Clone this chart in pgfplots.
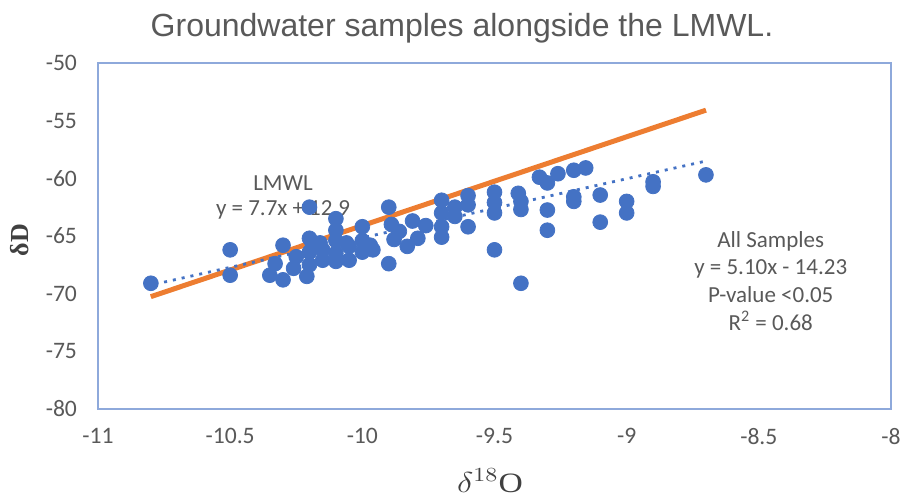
\documentclass[border=0pt]{standalone}
\usepackage{fontspec}
\setmainfont{Carlito}
\newfontfamily\titlefont{Liberation Sans}
\newfontfamily\seriffont{Liberation Serif}
\usepackage{graphicx}
\usepackage{pgfplots}
\pgfplotsset{compat=1.18}
\definecolor{ptblue}{HTML}{4472C4}
\definecolor{lmwl}{HTML}{ED7D31}
\definecolor{txtgray}{HTML}{595959}
\definecolor{labgray}{HTML}{404040}
\definecolor{frameblue}{HTML}{8EA9DB}
\begin{document}
\begin{tikzpicture}
\useasboundingbox (0,0) rectangle (450.5pt,248pt);
\begin{axis}[
  at={(49pt,43.5pt)}, anchor=south west,
  scale only axis, width=396.5pt, height=173pt,
  xmin=-11, xmax=-8, ymin=-80, ymax=-50,
  xtick={-11,-10.5,-10,-9.5,-9,-8.5,-8},
  ytick={-80,-75,-70,-65,-60,-55,-50},
  major tick length=0pt,
  axis line style={frameblue, line width=0.8pt},
  tick label style={font=\fontsize{11.8}{13}\selectfont, text=txtgray},
  /pgf/number format/assume math mode=true,
  xticklabel style={yshift=-6pt},
  yticklabel style={xshift=-7pt},
  clip=false,
]
\addplot[lmwl, line width=2.5pt] coordinates {(-10.8,-70.26) (-8.7,-54.09)};
\addplot[only marks, mark=*, mark size=3.7pt, ptblue, mark options={fill=ptblue, draw=ptblue}] table {
x y
-10.80 -69.1
-10.50 -66.2
-10.50 -68.4
-10.30 -65.8
-10.33 -67.4
-10.35 -68.4
-10.30 -68.8
-10.26 -67.8
-10.25 -66.8
-10.20 -62.5
-10.20 -65.2
-10.20 -66.4
-10.20 -67.5
-10.21 -68.5
-10.19 -65.6
-10.16 -65.6
-10.15 -66.2
-10.15 -67.1
-10.10 -63.5
-10.10 -64.5
-10.10 -65.4
-10.10 -66.5
-10.10 -67.2
-10.06 -65.6
-10.05 -65.9
-10.05 -67.1
-10.00 -64.2
-10.00 -65.4
-10.00 -66.4
-9.97 -65.8
-9.96 -66.2
-9.90 -62.5
-9.90 -67.4
-9.89 -64.0
-9.88 -65.3
-9.86 -64.6
-9.83 -65.9
-9.81 -63.7
-9.79 -65.2
-9.76 -64.1
-9.70 -61.9
-9.70 -63.0
-9.70 -64.2
-9.70 -65.1
-9.65 -62.5
-9.65 -63.3
-9.60 -61.5
-9.60 -62.3
-9.60 -64.2
-9.50 -61.2
-9.50 -62.1
-9.50 -63.0
-9.50 -66.2
-9.41 -61.3
-9.40 -62.0
-9.40 -62.7
-9.40 -69.1
-9.33 -59.9
-9.30 -60.4
-9.30 -62.75
-9.30 -64.5
-9.26 -59.6
-9.20 -59.3
-9.155 -59.1
-9.20 -61.6
-9.20 -62.0
-9.10 -61.45
-9.10 -63.8
-9.00 -62.0
-9.00 -63.0
-8.90 -60.3
-8.90 -60.7
-8.70 -59.7
};
\addplot[lmwl, line width=1.2pt, dash pattern=on 1.5pt off 3pt] coordinates {(-10.8,-70.26) (-8.7,-54.09)};
\addplot[ptblue, line width=1.4pt, dash pattern=on 1.5pt off 3pt] coordinates {(-10.75,-69.0) (-8.7,-58.5)};
\node[font=\fontsize{11.5}{12.5}\selectfont, text=txtgray, align=center] at (axis cs:-10.30,-61.7) {LMWL\\y = 7.7x + 12.9};
\node[font=\fontsize{11.5}{13.9}\selectfont, text=txtgray, align=center] at (axis cs:-8.455,-68.9) {All Samples\\y = 5.10x - 14.23\\P-value <0.05\\R\textsuperscript{2} = 0.68};
\end{axis}
\node[font=\titlefont\fontsize{16}{19}\selectfont, text=txtgray] at (231pt,234pt) {Groundwater samples alongside the LMWL.};
\node[font=\fontsize{14}{16}\selectfont, text=labgray, inner sep=0pt, anchor=south] at (245pt,1.5pt) {\scalebox{1.2}[1]{$\delta^{18}${\seriffont O}}};
\node[font=\seriffont\bfseries\fontsize{13}{15}\selectfont, text=labgray, rotate=90] at (10pt,128pt) {δD};
\end{tikzpicture}
\end{document}
